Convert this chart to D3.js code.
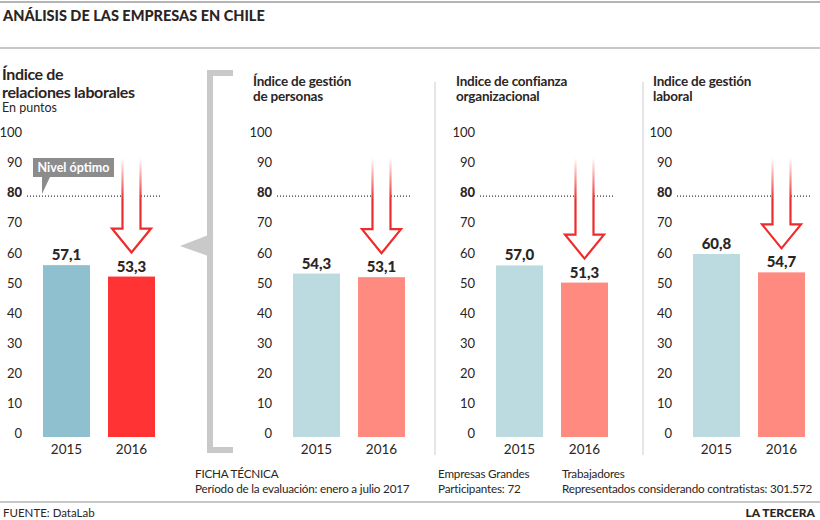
<!DOCTYPE html>
<html>
<head>
<meta charset="utf-8">
<script src="https://cdn.jsdelivr.net/npm/d3@7"></script>
<style>
  body { margin: 0; background: #fff; }
  svg { display: block; font-family: Lato, "Open Sans", sans-serif; }
</style>
</head>
<body>
<svg id="chart" width="820" height="520"></svg>
<script>
// ---------- DATA ----------
const chartTitle = "ANÁLISIS DE LAS EMPRESAS EN CHILE";
const years = ["2015", "2016"];
const panelTitles = [
  ["Índice de", "relaciones laborales"],
  ["Índice de gestión", "de personas"],
  ["Indice de confianza", "organizacional"],
  ["Indice de gestión", "laboral"]
];
const values2015 = [57.1, 54.3, 57.0, 60.8];
const values2016 = [53.3, 53.1, 51.3, 54.7];
const tickValues = [0, 10, 20, 30, 40, 50, 60, 70, 80, 90, 100];
const optimo = 80;
const optimoLabel = "Nivel óptimo";
const unitLabel = "En puntos";
const footerNotes = [
  ["FICHA TÉCNICA", "Período de la evaluación: enero a julio 2017"],
  ["Empresas Grandes", "Participantes:  72"],
  ["Trabajadores", "Representados considerando contratistas: 301.572"]
];
const sourceLabel = "FUENTE: DataLab";
const brandLabel = "LA TERCERA";

// ---------- LAYOUT ----------
const svg = d3.select("#chart");
const W = 820, H = 520;
const axisRight = [22, 272, 475, 672];
const barStart = [43, 293, 496, 693];
const footerX = [195, 438, 562];
const colors2015 = ["#8fc0cf", "#bbdbe0", "#bbdbe0", "#bbdbe0"];
const colors2016 = ["#ff3333", "#ff8a80", "#ff8a80", "#ff8a80"];
const arrowRed = "#ee2b2b";
const textDark = "#2b2523";

const y = d3.scaleLinear().domain([0, 100]).range([437, 136]);
const fmt = d3.formatLocale({decimal: ",", thousands: ".", grouping: [3], currency: ["", ""]}).format(".1f");

const defs = svg.append("defs");
const grad = defs.append("linearGradient")
  .attr("id", "fade").attr("gradientUnits", "userSpaceOnUse")
  .attr("x1", 0).attr("x2", 0).attr("y1", 158).attr("y2", 200);
grad.append("stop").attr("offset", 0).attr("stop-color", arrowRed).attr("stop-opacity", 0);
grad.append("stop").attr("offset", 1).attr("stop-color", arrowRed).attr("stop-opacity", 1);

// rules
svg.append("line").attr("x1", 0).attr("x2", W).attr("y1", 2).attr("y2", 2)
  .attr("stroke", "#b4b4b4").attr("stroke-width", 2);
svg.append("line").attr("x1", 0).attr("x2", W).attr("y1", 48).attr("y2", 48)
  .attr("stroke", "#b4b4b4").attr("stroke-width", 1.5);
svg.append("line").attr("x1", 0).attr("x2", W).attr("y1", 502).attr("y2", 502)
  .attr("stroke", "#b4b4b4").attr("stroke-width", 1.5);

svg.append("text").attr("x", 3).attr("y", 21)
  .attr("font-size", 14.5).attr("font-weight", 900).attr("fill", textDark)
  .text(chartTitle);

// bracket
svg.append("path").attr("d", "M233,73H210V450H233")
  .attr("fill", "none").attr("stroke", "#c9c9c9").attr("stroke-width", 6);
svg.append("path").attr("d", "M211,234L211,257L180,246Z").attr("fill", "#c9c9c9");

// dividers
[435, 643].forEach(x => {
  svg.append("line").attr("x1", x).attr("x2", x).attr("y1", 82).attr("y2", 455)
    .attr("stroke", "#d6d6d6").attr("stroke-width", 1.2);
});

// panels
panelTitles.forEach((lines, i) => {
  const ax = axisRight[i];
  const bx = barStart[i];
  const g = svg.append("g");
  const x = d3.scaleBand().domain(years).range([bx, bx + 112]).paddingInner(18 / 65).paddingOuter(0);

  // titles
  if (i === 0) {
    lines.forEach((t, k) => g.append("text").attr("x", 2).attr("y", 80 + k * 18)
      .attr("font-size", 16).attr("font-weight", 700).attr("fill", textDark)
      .attr("letter-spacing", -0.35).text(t));
    g.append("text").attr("x", 2).attr("y", 112).attr("font-size", 12.5)
      .attr("fill", textDark).text(unitLabel);
  } else {
    lines.forEach((t, k) => g.append("text").attr("x", ax - 19).attr("y", 86 + k * 14.5)
      .attr("font-size", 13.5).attr("font-weight", 700).attr("fill", textDark)
      .attr("letter-spacing", -0.2).text(t));
  }

  // y axis
  const yAxis = g.append("g").attr("transform", `translate(${ax},0)`)
    .call(d3.axisLeft(y).tickValues(tickValues).tickSize(0).tickPadding(0).tickFormat(d3.format("d")));
  yAxis.select(".domain").remove();
  yAxis.selectAll("text").attr("font-family", "Lato, sans-serif").attr("font-size", 13)
    .attr("fill", textDark).attr("dy", "0.05em")
    .attr("font-weight", d => d === optimo ? 900 : 400);

  // dotted optimum line
  g.append("line").attr("x1", bx - 16).attr("x2", bx + 117)
    .attr("y1", y(optimo)).attr("y2", y(optimo))
    .attr("stroke", "#333").attr("stroke-width", 1.2).attr("stroke-dasharray", "1,2");

  // bars
  const vals = [values2015[i], values2016[i]];
  const cols = [colors2015[i], colors2016[i]];
  g.selectAll("rect.bar").data(years).join("rect").attr("class", "bar")
    .attr("x", d => x(d)).attr("width", x.bandwidth())
    .attr("y", (d, k) => y(vals[k])).attr("height", (d, k) => y(0) - y(vals[k]))
    .attr("fill", (d, k) => cols[k]);

  // value labels
  g.selectAll("text.val").data(years).join("text").attr("class", "val")
    .attr("x", d => x(d) + x.bandwidth() / 2).attr("y", (d, k) => y(vals[k]) - 5)
    .attr("text-anchor", "middle").attr("font-size", 15).attr("font-weight", 900)
    .attr("fill", textDark).text((d, k) => fmt(vals[k]));

  // x axis
  const xAxis = g.append("g").attr("transform", `translate(0,${y(0) + 5})`)
    .call(d3.axisBottom(x).tickSize(0).tickPadding(0));
  xAxis.select(".domain").remove();
  xAxis.selectAll("text").attr("font-family", "Lato, sans-serif").attr("font-size", 13.5)
    .attr("fill", textDark).attr("dy", "0.9em");

  // arrow
  const cx = x(years[1]) + x.bandwidth() / 2;
  const tip = y(vals[1]) - 24;
  const headTop = tip - 24, hw = 19.5, sw = 9;
  const p = d3.path();
  p.moveTo(cx - sw, 156); p.lineTo(cx - sw, headTop); p.lineTo(cx - hw, headTop);
  p.lineTo(cx, tip); p.lineTo(cx + hw, headTop); p.lineTo(cx + sw, headTop); p.lineTo(cx + sw, 156);
  g.append("path").attr("d", p.toString()).attr("fill", "#fff")
    .attr("stroke", "url(#fade)").attr("stroke-width", 2.2).attr("stroke-linejoin", "miter");
});

// Nivel óptimo callout
const cb = svg.append("g");
cb.append("path").attr("d", "M33,158H114V177H50L42,194L42,177H33Z").attr("fill", "#8c8c8c");
cb.append("text").attr("x", 73.5).attr("y", 172).attr("text-anchor", "middle")
  .attr("font-size", 12.5).attr("font-weight", 700).attr("fill", "#fff").text(optimoLabel);

// footer
footerNotes.forEach((lines, i) => {
  lines.forEach((t, k) => svg.append("text").attr("x", footerX[i]).attr("y", 478 + k * 14.5)
    .attr("font-size", 11.7).attr("fill", textDark).attr("letter-spacing", -0.2).text(t));
});
svg.append("text").attr("x", 3).attr("y", 517).attr("font-size", 11.5)
  .attr("fill", textDark).text(sourceLabel);
svg.append("text").attr("x", 815).attr("y", 517).attr("text-anchor", "end")
  .attr("font-size", 12).attr("font-weight", 900).attr("fill", textDark).text(brandLabel);
</script>
</body>
</html>
